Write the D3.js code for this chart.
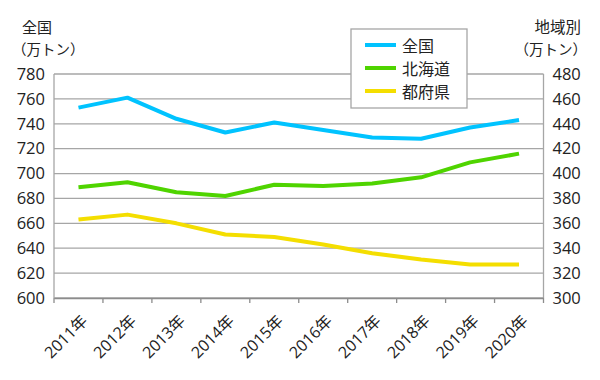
<!DOCTYPE html>
<html><head><meta charset="utf-8">
<script src="https://cdn.jsdelivr.net/npm/d3@7"></script>
<style>body{margin:0;background:#fff}svg{display:block}text{font-family:"Open Sans","Noto Sans CJK JP",sans-serif;fill:#222}</style>
</head><body><svg id="c" width="600" height="380"></svg>
<script>
const years = ["2011年","2012年","2013年","2014年","2015年","2016年","2017年","2018年","2019年","2020年"];
const zenkoku = [753, 761, 744, 733, 741, 735, 729, 728, 737, 743];
const hokkaido = [389, 393, 385, 382, 391, 390, 392, 397, 409, 416];
const tofuken = [363, 367, 360, 351, 349, 343, 336, 331, 327, 327];
const leftTicks = [600,620,640,660,680,700,720,740,760,780];
const rightTicks = [300,320,340,360,380,400,420,440,460,480];
const seriesNames = ["全国","北海道","都府県"];
const colors = ["#00c3ff","#4fd400","#f4de00"];

const svg = d3.select("#c");
const L = 54, R = 543.5, T = 74, B = 298;
const x = d3.scaleBand().domain(years).range([L, R]);
const yL = d3.scaleLinear().domain([600,780]).range([B, T]);
const yR = d3.scaleLinear().domain([300,480]).range([B, T]);
const FF = '"Open Sans","Noto Sans CJK JP",sans-serif';

// gridlines
svg.append("g").selectAll("line").data(leftTicks).join("line")
  .attr("x1", L).attr("x2", R).attr("y1", d=>yL(d)).attr("y2", d=>yL(d))
  .attr("stroke", "#a6a6a6").attr("stroke-width", 1.3);
// frame sides
svg.append("line").attr("x1",L).attr("x2",L).attr("y1",T).attr("y2",B).attr("stroke","#a6a6a6").attr("stroke-width",1.3);
svg.append("line").attr("x1",R).attr("x2",R).attr("y1",T).attr("y2",B).attr("stroke","#a6a6a6").attr("stroke-width",1.3);

// x axis
const xa = svg.append("g").attr("transform", `translate(0,${B})`)
  .call(d3.axisBottom(x).tickSize(0).tickValues([]));
xa.select(".domain").attr("stroke","#8c8c8c").attr("stroke-width",1.3);
const tickPos = years.map(d=>x(d)).concat([R]);
svg.append("g").selectAll("line").data(tickPos).join("line")
  .attr("x1", d=>d).attr("x2", d=>d).attr("y1", B).attr("y2", B+5)
  .attr("stroke","#8c8c8c").attr("stroke-width",1.3);
svg.append("g").selectAll("text").data(years).join("text")
  .attr("transform", d=>`translate(${x(d)+x.bandwidth()/2+10},${B+24}) rotate(-45)`)
  .attr("text-anchor","end").attr("font-size",16).text(d=>d);

// y axes labels
const ylg = svg.append("g").attr("transform",`translate(${L},0)`)
  .call(d3.axisLeft(yL).tickValues(leftTicks).tickSize(0).tickPadding(9));
ylg.select(".domain").remove();
ylg.selectAll("text").attr("font-size",16.5).attr("fill","#222").style("font-family",FF);
const yrg = svg.append("g").attr("transform",`translate(${R},0)`)
  .call(d3.axisRight(yR).tickValues(rightTicks).tickSize(0).tickPadding(9));
yrg.select(".domain").remove();
yrg.selectAll("text").attr("font-size",16.5).attr("fill","#222").style("font-family",FF);

// axis titles
svg.append("text").attr("x",22).attr("y",33).attr("font-size",15).text("全国");
svg.append("text").attr("x",12).attr("y",55).attr("font-size",14.5).text("（万トン）");
svg.append("text").attr("x",581).attr("y",33).attr("font-size",15.5).attr("text-anchor","end").text("地域別");
svg.append("text").attr("x",587).attr("y",55).attr("font-size",14.5).attr("text-anchor","end").text("（万トン）");

// lines
const cx = d=>x(d)+x.bandwidth()/2;
const lineL = d3.line().x((d,i)=>cx(years[i])).y(d=>yL(d));
const lineR = d3.line().x((d,i)=>cx(years[i])).y(d=>yR(d));
svg.append("path").datum(zenkoku).attr("d",lineL).attr("fill","none").attr("stroke",colors[0]).attr("stroke-width",4).attr("stroke-linejoin","round");
svg.append("path").datum(hokkaido).attr("d",lineR).attr("fill","none").attr("stroke",colors[1]).attr("stroke-width",4).attr("stroke-linejoin","round");
svg.append("path").datum(tofuken).attr("d",lineR).attr("fill","none").attr("stroke",colors[2]).attr("stroke-width",4).attr("stroke-linejoin","round");

// legend
const lg = svg.append("g");
lg.append("rect").attr("x",351).attr("y",29).attr("width",116).attr("height",79)
  .attr("fill","#fff").attr("stroke","#a6a6a6").attr("stroke-width",1.3);
seriesNames.forEach((n,i)=>{
  const yy = 45 + i*23;
  lg.append("line").attr("x1",365).attr("x2",396).attr("y1",yy).attr("y2",yy).attr("stroke",colors[i]).attr("stroke-width",4);
  lg.append("text").attr("x",402).attr("y",yy+6.5).attr("font-size",16).text(n);
});
</script></body></html>
